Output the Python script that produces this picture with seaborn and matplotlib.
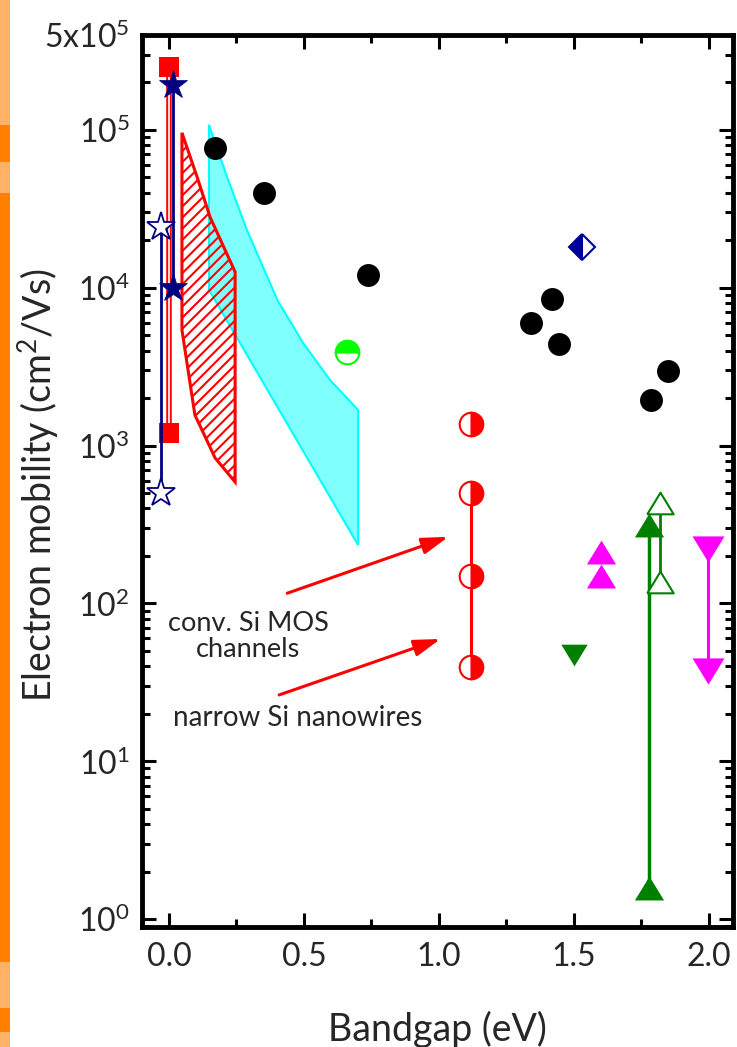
import matplotlib
matplotlib.use("Agg")
import matplotlib.pyplot as plt
import matplotlib.patheffects as pe
import seaborn as sns
from matplotlib.patches import Rectangle
from matplotlib.ticker import FixedLocator, FixedFormatter, LogLocator, NullFormatter, MultipleLocator

# ---------------- data ----------------
black_bandgap = [0.171, 0.353, 0.738, 1.343, 1.421, 1.447, 1.785, 1.848]
black_mobility = [7.7e4, 4.0e4, 1.2e4, 6.0e3, 8.5e3, 4.4e3, 1.95e3, 2.97e3]

ge_bandgap = [0.66]
ge_mobility = [3.92e3]

diamond_bandgap = [1.529]
diamond_mobility = [1.82e4]

si_top_bandgap = [1.12]
si_top_mobility = [1370]
si_range_bandgap = [1.12, 1.12, 1.12]
si_range_mobility = [500, 149, 39.5]

square_bandgap = [0.0, 0.0]
square_mobility = [2.5e5, 1.2e3]

star_filled_bandgap = [0.015, 0.015]
star_filled_mobility = [1.93e5, 1.0e4]

star_open_bandgap = [-0.03, -0.03]
star_open_mobility = [2.43e4, 500]

magenta_up_bandgap = [1.60, 1.60]
magenta_up_mobility = [212, 149]

green_down_bandgap = [1.50]
green_down_mobility = [47]

green_up_filled_bandgap = [1.777, 1.777]
green_up_filled_mobility = [314, 1.57]

green_up_open_bandgap = [1.818, 1.818]
green_up_open_mobility = [433, 137]

magenta_down_bandgap = [1.996, 1.996]
magenta_down_mobility = [221, 37.3]

cyan_bandgap = [0.148, 0.215, 0.289, 0.401, 0.497, 0.597, 0.701, 0.701, 0.148]
cyan_mobility = [1.08e5, 5.04e4, 2.32e4, 8.4e3, 4.47e3, 2.6e3, 1.68e3, 234, 9.7e3]

hatch_bandgap = [0.048, 0.104, 0.152, 0.245, 0.245, 0.171, 0.096, 0.048]
hatch_mobility = [9.6e4, 5.04e4, 2.81e4, 1.26e4, 588, 834, 1563, 5.4e3]

x_ticks = [0.0, 0.5, 1.0, 1.5, 2.0]
x_tick_labels = ["0.0", "0.5", "1.0", "1.5", "2.0"]
y_ticks = [1, 10, 100, 1e3, 1e4, 1e5, 4.0e5]
y_tick_labels = [r"$\mathregular{10^{0}}$", r"$\mathregular{10^{1}}$", r"$\mathregular{10^{2}}$",
                 r"$\mathregular{10^{3}}$", r"$\mathregular{10^{4}}$", r"$\mathregular{10^{5}}$",
                 r"$\mathregular{5x10^{5}}$"]

annot_text_1 = "conv. Si MOS\nchannels"
annot_text_2 = "narrow Si nanowires"

# ---------------- style ----------------
sns.set_style("ticks")
plt.rcParams["font.family"] = ["Lato", "DejaVu Sans"]
plt.rcParams["mathtext.fontset"] = "custom"
plt.rcParams["mathtext.rm"] = "Lato"
plt.rcParams["mathtext.it"] = "Lato:italic"
plt.rcParams["hatch.color"] = "red"
plt.rcParams["hatch.linewidth"] = 1.5

fig = plt.figure(figsize=(7.37, 10.47), dpi=100)
fig.patch.set_facecolor("white")

# orange strip at left edge of the screenshot
strip = [(0, 125, "#FFB266"), (125, 162, "#FF8000"), (162, 193, "#FFB266"),
         (193, 962, "#FF8000"), (962, 1008, "#FFB266"), (1008, 1032, "#FF8000"),
         (1032, 1047, "#FFB266")]
for y0, y1, c in strip:
    fig.patches.append(Rectangle((0, 1 - y1 / 1047), 10 / 737, (y1 - y0) / 1047,
                                 transform=fig.transFigure, facecolor=c, edgecolor="none"))

ax = fig.add_axes([0.1927, 0.1146, 0.8019, 0.852])
ax.set_yscale("log")
ax.set_xlim(-0.1, 2.09)
ax.set_ylim(0.89, 4.0e5)

# shaded regions
ax.fill(cyan_bandgap, cyan_mobility, facecolor="#80FFFF", edgecolor="#00FFFF", lw=1.5, zorder=1)
ax.fill(hatch_bandgap, hatch_mobility, facecolor="none", edgecolor="red", hatch="///", lw=2.2, zorder=2)

wide_up = [(-1, -0.82), (1, -0.82), (0, 0.82), (-1, -0.82)]
wide_down = [(-1, 0.82), (1, 0.82), (0, -0.82), (-1, 0.82)]


def vline(x, y, **kw):
    sns.lineplot(x=x, y=y, estimator=None, sort=False, ax=ax, legend=False, **kw)


# red square range: double red line (red outline, white core)
vline(square_bandgap, square_mobility, color="white", lw=1.2, zorder=3,
      path_effects=[pe.Stroke(linewidth=4.0, foreground="red"), pe.Normal()])
vline(square_bandgap, square_mobility, color="red", lw=0, marker="s", ms=14,
      markerfacecolor="red", markeredgecolor="red", markeredgewidth=0, zorder=4)

# vertical ranges with end markers
vline(star_filled_bandgap, star_filled_mobility, color="#000080", lw=2.0, marker="*", ms=21,
      markerfacecolor="#000080", markeredgecolor="#000080", markeredgewidth=0.5, zorder=4)
vline(star_open_bandgap, star_open_mobility, color="#000080", lw=2.0, marker="*", ms=21,
      markerfacecolor="white", markeredgecolor="#000080", markeredgewidth=1.3, zorder=4)
vline(si_range_bandgap, si_range_mobility, color="red", lw=2.2, marker="o", ms=17,
      fillstyle="right", markerfacecolor="red", markerfacecoloralt="white",
      markeredgecolor="red", markeredgewidth=1.5, zorder=4)
vline(green_up_filled_bandgap, green_up_filled_mobility, color="green", lw=2.5, marker=wide_up, ms=21,
      markerfacecolor="green", markeredgecolor="green", markeredgewidth=0, zorder=4)
vline(green_up_open_bandgap, green_up_open_mobility, color="green", lw=2.0, marker=wide_up, ms=19,
      markerfacecolor="white", markeredgecolor="green", markeredgewidth=1.5, zorder=4)
vline(magenta_down_bandgap, magenta_down_mobility, color="#FF00FF", lw=2.2, marker=wide_down, ms=23,
      markerfacecolor="#FF00FF", markeredgecolor="#FF00FF", markeredgewidth=0, zorder=4)

# isolated points
sns.scatterplot(x=black_bandgap, y=black_mobility, ax=ax, marker="o", s=16.5 ** 2,
                color="black", edgecolor="black", linewidth=0, zorder=5, legend=False)
sns.scatterplot(x=magenta_up_bandgap, y=magenta_up_mobility, ax=ax, marker=wide_up, s=21 ** 2,
                color="#FF00FF", edgecolor="#FF00FF", linewidth=0, zorder=5, legend=False)
sns.scatterplot(x=green_down_bandgap, y=green_down_mobility, ax=ax, marker=wide_down, s=19 ** 2,
                color="green", edgecolor="green", linewidth=0, zorder=5, legend=False)

# half-filled markers
vline(si_top_bandgap, si_top_mobility, color="red", lw=0, marker="o", ms=17,
      fillstyle="right", markerfacecolor="red", markerfacecoloralt="white",
      markeredgecolor="red", markeredgewidth=1.5, zorder=5)
vline(ge_bandgap, ge_mobility, color="#00FF00", lw=0, marker="o", ms=17,
      fillstyle="top", markerfacecolor="#00FF00", markerfacecoloralt="white",
      markeredgecolor="#00FF00", markeredgewidth=1.5, zorder=5)
vline(diamond_bandgap, diamond_mobility, color="#000099", lw=0, marker="D", ms=13.5,
      fillstyle="left", markerfacecolor="#000099", markerfacecoloralt="white",
      markeredgecolor="#000099", markeredgewidth=1.5, zorder=5)

# annotations
arrow_kw = dict(arrowstyle="-|>,head_length=0.8,head_width=0.25", color="red", lw=2.2,
                shrinkA=0, shrinkB=0, mutation_scale=20)
ax.annotate("", xy=(1.035, 264), xytext=(0.438, 116), arrowprops=arrow_kw, zorder=6)
ax.annotate("", xy=(1.006, 59.5), xytext=(0.408, 26.3), arrowprops=arrow_kw, zorder=6)
ax.text(0.293, 62, annot_text_1, ha="center", va="center", fontsize=19.5, linespacing=1.05)
ax.text(0.475, 18.8, annot_text_2, ha="center", va="center", fontsize=20)

# axes styling
for s in ax.spines.values():
    s.set_linewidth(3.5)
    s.set_color("black")
    s.set_visible(True)

ax.xaxis.set_major_locator(FixedLocator(x_ticks))
ax.xaxis.set_major_formatter(FixedFormatter(x_tick_labels))
ax.xaxis.set_minor_locator(MultipleLocator(0.25))
ax.yaxis.set_major_locator(FixedLocator(y_ticks))
ax.yaxis.set_major_formatter(FixedFormatter(y_tick_labels))
ax.yaxis.set_minor_locator(LogLocator(base=10, subs=[2, 3, 4, 5, 6, 7, 8, 9], numticks=20))
ax.yaxis.set_minor_formatter(NullFormatter())

ax.tick_params(which="both", direction="in", top=True, right=True, width=2.2, color="black")
ax.tick_params(which="major", length=10, labelsize=23, pad=9)
ax.tick_params(which="minor", length=5.5)
ax.tick_params(axis="x", which="major", pad=11)

ax.set_xlabel("Bandgap (eV)", fontsize=27)
ax.set_ylabel(r"Electron mobility (cm$\mathregular{^{2}}$/Vs)", fontsize=27)
ax.xaxis.set_label_coords(0.5, -0.094)
ax.yaxis.set_label_coords(-0.176, 0.4955)
ax.xaxis.label.set_va("top")
ax.yaxis.label.set_va("center")

fig.savefig("out.png", dpi=100, facecolor="white")
